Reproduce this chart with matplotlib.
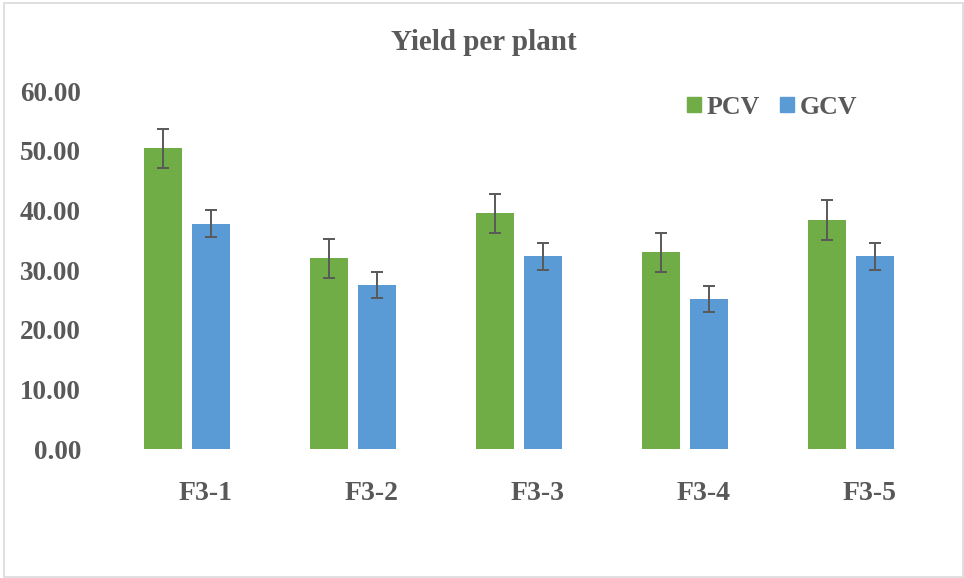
import matplotlib
matplotlib.use('Agg')
import matplotlib.pyplot as plt
import matplotlib.patches as mpatches
import matplotlib.transforms as mtransforms
import numpy as np

plt.rcParams.update({
    'font.family': 'Liberation Serif',
    'font.weight': 'bold',
    'text.color': '#595959',
    'xtick.color': '#595959',
    'ytick.color': '#595959',
})

# ── DATA ──────────────────────────────────────────────────────────────────
categories = ['F3-1', 'F3-2', 'F3-3', 'F3-4', 'F3-5']
pcv = [50.4, 32.0, 39.5, 33.0, 38.4]
gcv = [37.8, 27.5, 32.3, 25.2, 32.3]
pcv_err = [3.3, 3.3, 3.3, 3.3, 3.3]
gcv_err = [2.2, 2.2, 2.2, 2.2, 2.2]
y_ticks = [0, 10, 20, 30, 40, 50, 60]

GREEN = '#70AD47'
BLUE = '#5B9BD5'
GREY = '#595959'

fig = plt.figure(figsize=(9.64, 5.78), dpi=100)
ax = fig.add_axes([0.1079, 0.2227, 0.861, 0.6197])

x = np.arange(len(categories))
w = 0.225
off = 0.1446
err_kw = dict(ecolor=GREY, elinewidth=1.4, capsize=4.4, capthick=1.4)

ax.bar(x - off, pcv, w, color=GREEN, yerr=pcv_err, error_kw=err_kw, label='PCV')
ax.bar(x + off, gcv, w, color=BLUE, yerr=gcv_err, error_kw=err_kw, label='GCV')

ax.set_xlim(-0.5, len(categories) - 0.5)
ax.set_ylim(0, 60)
ax.set_yticks(y_ticks)
ax.set_yticklabels([f'{v:.2f}' for v in y_ticks], fontsize=19.5, fontweight='bold')
ax.set_xticks(x)
ax.set_xticklabels(categories, fontsize=20, fontweight='bold')
ax.tick_params(axis='both', length=0)
ax.tick_params(axis='y', pad=16.5)
ax.tick_params(axis='x', pad=23)

# category labels sit a bit right of the bar pairs
shift = mtransforms.ScaledTranslation(19 / 100, 0, fig.dpi_scale_trans)
for lab in ax.get_xticklabels():
    lab.set_transform(lab.get_transform() + shift)

for s in ax.spines.values():
    s.set_visible(False)

fig.text(0.502, 1 - 50 / 578, 'Yield per plant', ha='center', va='baseline',
         fontsize=21, fontweight='bold', color=GREY)

handles = [mpatches.Patch(color=GREEN, label='PCV'),
           mpatches.Patch(color=BLUE, label='GCV')]
fig.legend(handles=handles, loc='center left',
           bbox_to_anchor=(687.3 / 964, 1 - 107 / 578), ncol=2, frameon=False,
           handlelength=0.53, handleheight=0.53,
           handletextpad=0.22, columnspacing=0.79, borderpad=0, borderaxespad=0,
           prop={'weight': 'bold', 'size': 18.6})

# light chart border
fig.patches.append(mpatches.Rectangle((4 / 964, 1 / 578), 959 / 964, 574 / 578,
                                      transform=fig.transFigure, fill=False,
                                      edgecolor='#D9D9D9', linewidth=1.2))

fig.savefig('out.png', dpi=100, facecolor='white')
